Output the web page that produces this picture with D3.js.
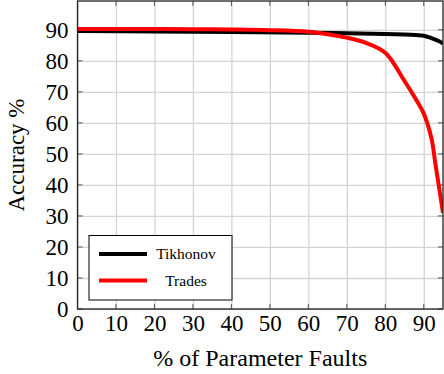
<!DOCTYPE html>
<html>
<head>
<meta charset="utf-8">
<script src="https://cdn.jsdelivr.net/npm/d3@7"></script>
<style>
  body { margin: 0; background: #fff; }
  .grid line { stroke: #d4d4d4; stroke-width: 1.3; }
</style>
</head>
<body>
<svg id="chart" width="444" height="374"></svg>
<script>
var width = 444;
var height = 374;
var serif = "Liberation Serif, DejaVu Serif, serif";

var margin = { left: 77.5, right: 1, top: 1, bottom: 65 };

var xTicks = [0, 10, 20, 30, 40, 50, 60, 70, 80, 90];
var yTicks = [0, 10, 20, 30, 40, 50, 60, 70, 80, 90];

// fault percentage points
var tikhonovX = [0, 20, 40, 60, 70, 80, 85, 88, 90, 92, 94, 95];
var tikhonovY = [89.6, 89.5, 89.3, 89.1, 88.9, 88.7, 88.5, 88.3, 88.1, 87.3, 86.3, 85.6];

var tradesX = [0, 10, 20, 30, 40, 50, 60, 65, 70, 75, 80, 85, 88, 90, 92, 93, 94, 95];
var tradesY = [90.3, 90.3, 90.3, 90.2, 90.1, 89.9, 89.4, 88.6, 87.5, 85.8, 82.6, 73.5, 67.5, 63, 55, 47, 39, 31];

var seriesNames = ["Tikhonov", "Trades"];
var seriesColors = ["#000", "#ff0000"];

var xLabel = "% of Parameter Faults";
var yLabel = "Accuracy %";

var svg = d3.select("#chart");

var xScale = d3.scaleLinear()
  .domain([0, 95])
  .range([margin.left, width - margin.right]);

var yScale = d3.scaleLinear()
  .domain([0, 99.3])
  .range([height - margin.bottom, margin.top]);

var x0 = xScale.range()[0], x1 = xScale.range()[1];
var y0 = yScale.range()[0], y1 = yScale.range()[1];

// grid
svg.append("g")
  .attr("class", "grid")
  .attr("transform", "translate(0," + y0 + ")")
  .call(d3.axisBottom(xScale).tickValues(xTicks).tickSize(-(y0 - y1)).tickFormat(""))
  .call(function(g) { g.select(".domain").remove(); });

svg.append("g")
  .attr("class", "grid")
  .attr("transform", "translate(" + x0 + ",0)")
  .call(d3.axisLeft(yScale).tickValues(yTicks).tickSize(-(x1 - x0)).tickFormat(""))
  .call(function(g) { g.select(".domain").remove(); });

// inward tick marks on all sides
var tickLen = 5;
var tk = svg.append("g").attr("stroke", "#555").attr("stroke-width", 1);
xTicks.forEach(function(t) {
  tk.append("line").attr("x1", xScale(t)).attr("x2", xScale(t)).attr("y1", y0).attr("y2", y0 - tickLen);
  tk.append("line").attr("x1", xScale(t)).attr("x2", xScale(t)).attr("y1", y1).attr("y2", y1 + tickLen);
});
yTicks.forEach(function(t) {
  tk.append("line").attr("y1", yScale(t)).attr("y2", yScale(t)).attr("x1", x0).attr("x2", x0 + tickLen);
  tk.append("line").attr("y1", yScale(t)).attr("y2", yScale(t)).attr("x1", x1).attr("x2", x1 - tickLen);
});

// tick labels
svg.append("g")
  .attr("transform", "translate(0," + y0 + ")")
  .call(d3.axisBottom(xScale).tickValues(xTicks).tickSize(0).tickPadding(6))
  .attr("font-family", serif)
  .attr("font-size", 23)
  .call(function(g) {
    g.select(".domain").remove();
    g.selectAll("text").attr("fill", "#000");
  });

svg.append("g")
  .attr("transform", "translate(" + x0 + ",0)")
  .call(d3.axisLeft(yScale).tickValues(yTicks).tickSize(0).tickPadding(9))
  .attr("font-family", serif)
  .attr("font-size", 23)
  .call(function(g) {
    g.select(".domain").remove();
    g.selectAll("text").attr("fill", "#000");
  });

// lines
var line = d3.line()
  .x(function(d) { return xScale(d[0]); })
  .y(function(d) { return yScale(d[1]); })
  .curve(d3.curveCatmullRom.alpha(0.5));

svg.append("clipPath").attr("id", "clip")
  .append("rect").attr("x", x0).attr("y", y1).attr("width", x1 - x0).attr("height", y0 - y1);

var plot = svg.append("g").attr("clip-path", "url(#clip)");

plot.append("path")
  .datum(d3.zip(tikhonovX, tikhonovY))
  .attr("fill", "none")
  .attr("stroke", seriesColors[0])
  .attr("stroke-width", 4)
  .attr("d", line);

plot.append("path")
  .datum(d3.zip(tradesX, tradesY))
  .attr("fill", "none")
  .attr("stroke", seriesColors[1])
  .attr("stroke-width", 4)
  .attr("d", line);

// frame
svg.append("rect")
  .attr("x", x0).attr("y", y1)
  .attr("width", x1 - x0).attr("height", y0 - y1)
  .attr("fill", "none")
  .attr("stroke", "#222")
  .attr("stroke-width", 1.3);

// legend
var legend = svg.append("g").attr("font-family", serif);
legend.append("rect")
  .attr("x", 89).attr("y", 235.5)
  .attr("width", 143).attr("height", 64.5)
  .attr("fill", "#fff")
  .attr("stroke", "#000")
  .attr("stroke-width", 1);

seriesNames.forEach(function(name, i) {
  var ly = 254 + i * 26.5;
  legend.append("line")
    .attr("x1", 99).attr("x2", 147)
    .attr("y1", ly).attr("y2", ly)
    .attr("stroke", seriesColors[i])
    .attr("stroke-width", 4);
  legend.append("text")
    .attr("x", 186).attr("y", ly + 5)
    .attr("text-anchor", "middle")
    .attr("font-size", 15.5)
    .text(name);
});

// axis titles
svg.append("text")
  .attr("x", (x0 + x1) / 2)
  .attr("y", 366)
  .attr("text-anchor", "middle")
  .attr("font-family", serif)
  .attr("font-size", 24)
  .text(xLabel);

svg.append("text")
  .attr("transform", "translate(24," + ((y0 + y1) / 2) + ") rotate(-90)")
  .attr("text-anchor", "middle")
  .attr("font-family", serif)
  .attr("font-size", 23)
  .text(yLabel);
</script>
</body>
</html>
